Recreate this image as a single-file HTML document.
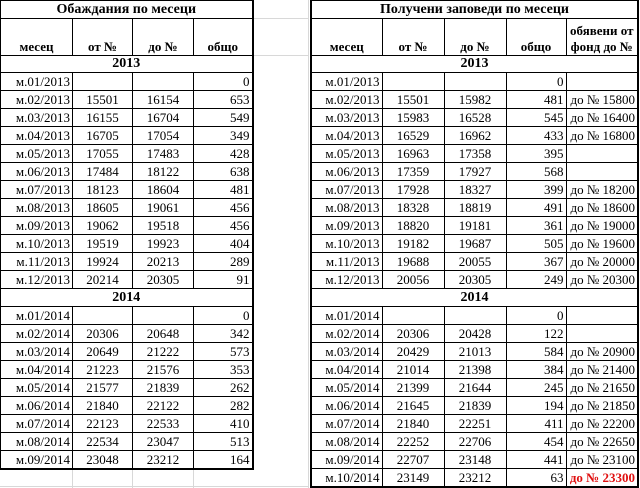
<!DOCTYPE html>
<html><head><meta charset="utf-8"><style>
body{margin:0;width:640px;height:488px;overflow:hidden;background:#fff;font-family:"Liberation Serif",serif;font-size:13px;color:#000;position:relative}
table{position:absolute;top:0;border-collapse:collapse;table-layout:fixed}
td{border:1px solid #000;padding:0 2px;height:17px;line-height:17px;white-space:nowrap;overflow:hidden}
.t td{font-weight:bold;text-align:center;font-size:14px}
.h td{font-weight:bold;text-align:center;vertical-align:bottom;height:36px;line-height:16px}
.y td{font-weight:bold;text-align:center;font-size:14px;height:16px;line-height:16px}
td.r{text-align:right}td.c{text-align:center}
td.red{color:#e01010;font-weight:bold}
#L{left:0;border-right:2px solid #000;border-bottom:2px solid #000}
#R{left:310px;border-left:2px solid #000;border-right:2px solid #000;border-bottom:2px solid #000}
.g{position:absolute;background:#d8d8d8}
</style></head><body>
<div class="g" style="left:308px;top:0;width:1px;height:488px"></div>
<div class="g" style="left:252px;top:18px;width:56px;height:1px"></div>
<div class="g" style="left:252px;top:55px;width:56px;height:1px"></div>
<div class="g" style="left:0;top:486px;width:308px;height:1px"></div>
<div class="g" style="left:72px;top:469px;width:1px;height:19px"></div>
<div class="g" style="left:132px;top:469px;width:1px;height:19px"></div>
<div class="g" style="left:193px;top:469px;width:1px;height:19px"></div>
<table id="L">
<colgroup><col style="width:72px"><col style="width:60px"><col style="width:61px"><col style="width:59px"></colgroup>
<tr class="t"><td colspan="4">Обаждания по месеци</td></tr>
<tr class="h"><td>месец</td><td>от №</td><td>до №</td><td>общо</td></tr>
<tr class="y"><td colspan="4">2013</td></tr>
<tr><td class="r">м.01/2013</td><td></td><td></td><td class="r">0</td></tr>
<tr><td class="r">м.02/2013</td><td class="c">15501</td><td class="c">16154</td><td class="r">653</td></tr>
<tr><td class="r">м.03/2013</td><td class="c">16155</td><td class="c">16704</td><td class="r">549</td></tr>
<tr><td class="r">м.04/2013</td><td class="c">16705</td><td class="c">17054</td><td class="r">349</td></tr>
<tr><td class="r">м.05/2013</td><td class="c">17055</td><td class="c">17483</td><td class="r">428</td></tr>
<tr><td class="r">м.06/2013</td><td class="c">17484</td><td class="c">18122</td><td class="r">638</td></tr>
<tr><td class="r">м.07/2013</td><td class="c">18123</td><td class="c">18604</td><td class="r">481</td></tr>
<tr><td class="r">м.08/2013</td><td class="c">18605</td><td class="c">19061</td><td class="r">456</td></tr>
<tr><td class="r">м.09/2013</td><td class="c">19062</td><td class="c">19518</td><td class="r">456</td></tr>
<tr><td class="r">м.10/2013</td><td class="c">19519</td><td class="c">19923</td><td class="r">404</td></tr>
<tr><td class="r">м.11/2013</td><td class="c">19924</td><td class="c">20213</td><td class="r">289</td></tr>
<tr><td class="r">м.12/2013</td><td class="c">20214</td><td class="c">20305</td><td class="r">91</td></tr>
<tr class="y"><td colspan="4" style="height:17px">2014</td></tr>
<tr><td class="r">м.01/2014</td><td></td><td></td><td class="r">0</td></tr>
<tr><td class="r">м.02/2014</td><td class="c">20306</td><td class="c">20648</td><td class="r">342</td></tr>
<tr><td class="r">м.03/2014</td><td class="c">20649</td><td class="c">21222</td><td class="r">573</td></tr>
<tr><td class="r">м.04/2014</td><td class="c">21223</td><td class="c">21576</td><td class="r">353</td></tr>
<tr><td class="r">м.05/2014</td><td class="c">21577</td><td class="c">21839</td><td class="r">262</td></tr>
<tr><td class="r">м.06/2014</td><td class="c">21840</td><td class="c">22122</td><td class="r">282</td></tr>
<tr><td class="r">м.07/2014</td><td class="c">22123</td><td class="c">22533</td><td class="r">410</td></tr>
<tr><td class="r">м.08/2014</td><td class="c">22534</td><td class="c">23047</td><td class="r">513</td></tr>
<tr><td class="r">м.09/2014</td><td class="c">23048</td><td class="c">23212</td><td class="r">164</td></tr>
</table>
<table id="R">
<colgroup><col style="width:71px"><col style="width:62px"><col style="width:62px"><col style="width:60px"><col style="width:72px"></colgroup>
<tr class="t"><td colspan="5">Получени заповеди по месеци</td></tr>
<tr class="h"><td>месец</td><td>от №</td><td>до №</td><td>общо</td><td>обявени от<br>фонд до №</td></tr>
<tr class="y"><td colspan="5">2013</td></tr>
<tr><td class="r">м.01/2013</td><td></td><td></td><td class="r">0</td><td></td></tr>
<tr><td class="r">м.02/2013</td><td class="c">15501</td><td class="c">15982</td><td class="r">481</td><td class="r">до № 15800</td></tr>
<tr><td class="r">м.03/2013</td><td class="c">15983</td><td class="c">16528</td><td class="r">545</td><td class="r">до № 16400</td></tr>
<tr><td class="r">м.04/2013</td><td class="c">16529</td><td class="c">16962</td><td class="r">433</td><td class="r">до № 16800</td></tr>
<tr><td class="r">м.05/2013</td><td class="c">16963</td><td class="c">17358</td><td class="r">395</td><td></td></tr>
<tr><td class="r">м.06/2013</td><td class="c">17359</td><td class="c">17927</td><td class="r">568</td><td></td></tr>
<tr><td class="r">м.07/2013</td><td class="c">17928</td><td class="c">18327</td><td class="r">399</td><td class="r">до № 18200</td></tr>
<tr><td class="r">м.08/2013</td><td class="c">18328</td><td class="c">18819</td><td class="r">491</td><td class="r">до № 18600</td></tr>
<tr><td class="r">м.09/2013</td><td class="c">18820</td><td class="c">19181</td><td class="r">361</td><td class="r">до № 19000</td></tr>
<tr><td class="r">м.10/2013</td><td class="c">19182</td><td class="c">19687</td><td class="r">505</td><td class="r">до № 19600</td></tr>
<tr><td class="r">м.11/2013</td><td class="c">19688</td><td class="c">20055</td><td class="r">367</td><td class="r">до № 20000</td></tr>
<tr><td class="r">м.12/2013</td><td class="c">20056</td><td class="c">20305</td><td class="r">249</td><td class="r">до № 20300</td></tr>
<tr class="y"><td colspan="5" style="height:17px">2014</td></tr>
<tr><td class="r">м.01/2014</td><td></td><td></td><td class="r">0</td><td></td></tr>
<tr><td class="r">м.02/2014</td><td class="c">20306</td><td class="c">20428</td><td class="r">122</td><td></td></tr>
<tr><td class="r">м.03/2014</td><td class="c">20429</td><td class="c">21013</td><td class="r">584</td><td class="r">до № 20900</td></tr>
<tr><td class="r">м.04/2014</td><td class="c">21014</td><td class="c">21398</td><td class="r">384</td><td class="r">до № 21400</td></tr>
<tr><td class="r">м.05/2014</td><td class="c">21399</td><td class="c">21644</td><td class="r">245</td><td class="r">до № 21650</td></tr>
<tr><td class="r">м.06/2014</td><td class="c">21645</td><td class="c">21839</td><td class="r">194</td><td class="r">до № 21850</td></tr>
<tr><td class="r">м.07/2014</td><td class="c">21840</td><td class="c">22251</td><td class="r">411</td><td class="r">до № 22200</td></tr>
<tr><td class="r">м.08/2014</td><td class="c">22252</td><td class="c">22706</td><td class="r">454</td><td class="r">до № 22650</td></tr>
<tr><td class="r">м.09/2014</td><td class="c">22707</td><td class="c">23148</td><td class="r">441</td><td class="r">до № 23100</td></tr>
<tr><td class="r">м.10/2014</td><td class="c">23149</td><td class="c">23212</td><td class="r">63</td><td class="r red">до № 23300</td></tr>
</table>
</body></html>
